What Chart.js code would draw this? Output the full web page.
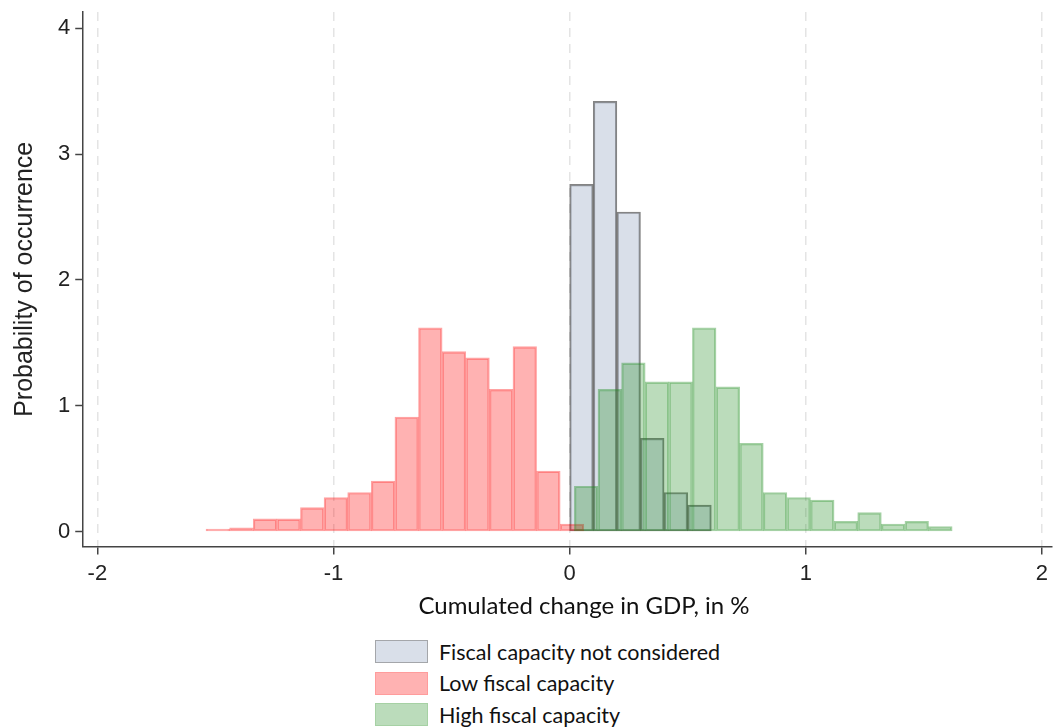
<!DOCTYPE html>
<html>
<head>
<meta charset="utf-8">
<script src="https://cdn.jsdelivr.net/npm/chart.js@4.4.0/dist/chart.umd.min.js"></script>
<style>
  html, body { margin: 0; padding: 0; background: #fff; }
  #wrap { position: relative; width: 1054px; height: 728px; }
  #box { position: absolute; left: 0; top: 0; width: 1054px; height: 601px; }
  #xtitle { position: absolute; left: 584px; top: 591px; transform: translateX(-50%); white-space: nowrap;
            font-family: Lato, 'Open Sans', sans-serif; font-size: 24px; line-height: 28px; color: #111; }
  #legend { position: absolute; left: 375px; top: 636px; font-family: Lato, 'Open Sans', sans-serif; font-size: 21.5px; color: #111; }
  #legend .row { display: flex; align-items: center; height: 31.5px; }
  #legend .sw { width: 53px; height: 23px; margin-right: 11px; box-sizing: border-box; border: 1.5px solid; }
</style>
</head>
<body>
<div id="wrap">
  <div id="box"><canvas id="chart-hist"></canvas></div>
  <div id="xtitle">Cumulated change in GDP, in %</div>
  <div id="legend"></div>
</div>
<script>
// bin centres (bin width 0.1) and densities
const grayBins    = [0.05, 0.15, 0.25, 0.35, 0.45, 0.55];
const grayDensity = [2.76, 3.42, 2.54, 0.74, 0.31, 0.21];

const redBins    = [-1.49, -1.39, -1.29, -1.19, -1.09, -0.99, -0.89, -0.79, -0.69, -0.59, -0.49, -0.39, -0.29, -0.19, -0.09, 0.01];
const redDensity = [0.02, 0.03, 0.10, 0.10, 0.19, 0.27, 0.31, 0.40, 0.91, 1.62, 1.43, 1.38, 1.13, 1.47, 0.48, 0.06];

const greenBins    = [0.07, 0.17, 0.27, 0.37, 0.47, 0.57, 0.67, 0.77, 0.87, 0.97, 1.07, 1.17, 1.27, 1.37, 1.47, 1.57];
const greenDensity = [0.36, 1.13, 1.34, 1.19, 1.19, 1.62, 1.15, 0.70, 0.31, 0.27, 0.25, 0.08, 0.15, 0.06, 0.08, 0.04];

const seriesNames = ['Fiscal capacity not considered', 'Low fiscal capacity', 'High fiscal capacity'];
const xTicks = [-2, -1, 0, 1, 2];
const yTicks = [0, 1, 2, 3, 4];

const X_MIN = -2.06, X_MAX = 2.04;
const AXIS = '#444';
const TICK_FONT = { family: "'Liberation Sans', Arial, sans-serif", size: 22 };

const toPoints = (bins, vals) => bins.map((b, i) => ({ x: b, y: vals[i] }));

// each histogram gets its own (hidden) x scale so Chart.js sizes bars from its own bin spacing
const hiddenX = () => ({
  type: 'linear', display: false, min: X_MIN, max: X_MAX, offset: false,
  ticks: { stepSize: 1, includeBounds: false },
  grid: { offset: false }
});

const ctx = document.getElementById('chart-hist');
const chart = new Chart(ctx, {
  type: 'bar',
  data: {
    datasets: [
      {
        label: seriesNames[0],
        data: toPoints(grayBins, grayDensity),
        xAxisID: 'xGray',
        backgroundColor: 'rgba(160, 175, 200, 0.4)',
        borderColor: 'rgba(50, 50, 50, 0.6)',
        legendBorder: '#a4a6aa',
        order: 3,
      },
      {
        label: seriesNames[1],
        data: toPoints(redBins, redDensity),
        xAxisID: 'x',
        backgroundColor: 'rgba(255, 0, 0, 0.3)',
        borderColor: 'rgba(255, 0, 0, 0.36)',
        legendBorder: '#ff9c9c',
        order: 2,
      },
      {
        label: seriesNames[2],
        data: toPoints(greenBins, greenDensity),
        xAxisID: 'xGreen',
        backgroundColor: 'rgba(30, 140, 30, 0.3)',
        borderColor: 'rgba(30, 140, 30, 0.4)',
        legendBorder: '#a6d1a4',
        order: 1,
      },
    ]
  },
  options: {
    responsive: true,
    maintainAspectRatio: false,
    animation: false,
    datasets: {
      bar: { barPercentage: 1, categoryPercentage: 1, borderWidth: 1.5, borderSkipped: false, grouped: false }
    },
    layout: { padding: { top: 12, left: 10, right: 0, bottom: 8 } },
    plugins: {
      legend: { display: false },
      tooltip: { enabled: false }
    },
    scales: {
      x: {
        type: 'linear', position: 'bottom', min: X_MIN, max: X_MAX, offset: false,
        afterBuildTicks: s => { s.ticks = xTicks.map(v => ({ value: v })); },
        ticks: { color: '#222', font: TICK_FONT, padding: 6, maxRotation: 0 },
        grid: { offset: false, color: '#e4e4e4', lineWidth: 1.5, tickLength: 8, tickColor: AXIS, tickWidth: 1.5, tickBorderDash: [] },
        border: { color: AXIS, width: 1.5, dash: [9, 7] }
      },
      xGray: hiddenX(),
      xGreen: hiddenX(),
      y: {
        type: 'linear', min: -0.12, max: 4.13,
        afterBuildTicks: s => { s.ticks = yTicks.map(v => ({ value: v })); },
        // the extreme ticks sit inside the range, so no extra room is needed for half labels
        afterFit: s => { s.paddingTop = 0; s.paddingBottom = 0; },
        ticks: { color: '#222', font: TICK_FONT, padding: 5 },
        grid: { drawOnChartArea: false, tickLength: 8, tickColor: AXIS, tickWidth: 1.5 },
        border: { color: AXIS, width: 1.5 },
        title: { display: true, text: 'Probability of occurrence', color: '#222',
                 font: { family: "'Liberation Sans', Arial, sans-serif", size: 25 }, padding: { top: 0, bottom: 13 } }
      }
    }
  }
});

// legend stacked one entry per line, as in the original
const legendEl = document.getElementById('legend');
chart.data.datasets.forEach(ds => {
  const row = document.createElement('div');
  row.className = 'row';
  const sw = document.createElement('span');
  sw.className = 'sw';
  sw.style.background = ds.backgroundColor;
  sw.style.borderColor = ds.legendBorder;
  const label = document.createElement('span');
  label.textContent = ds.label;
  row.appendChild(sw);
  row.appendChild(label);
  legendEl.appendChild(row);
});
</script>
</body>
</html>
